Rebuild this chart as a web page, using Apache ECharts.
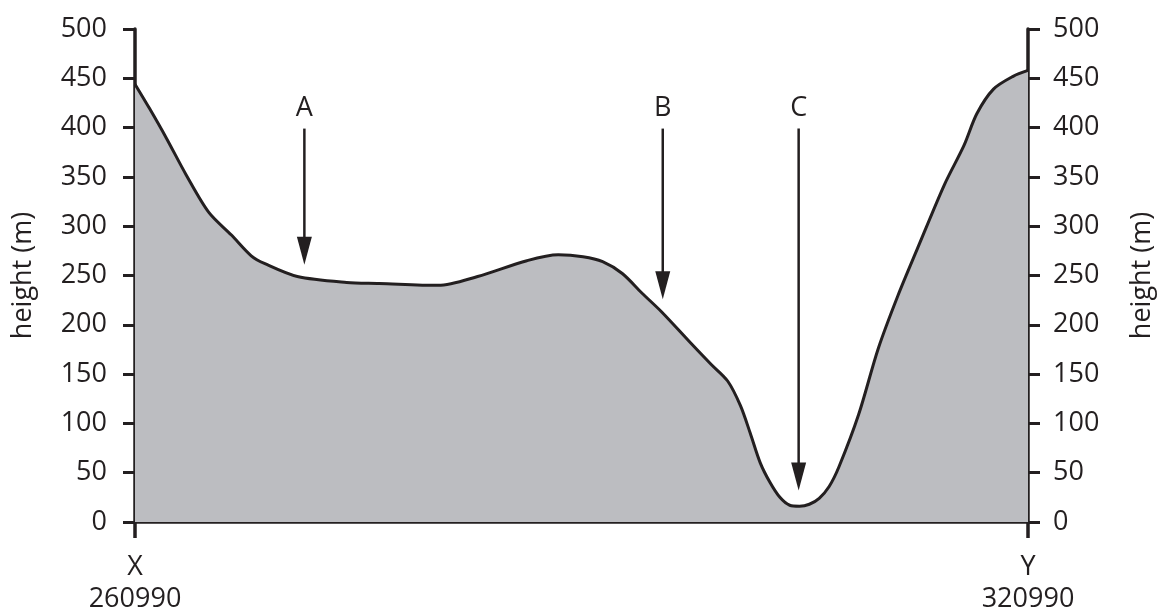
<!DOCTYPE html>
<html>
<head>
<meta charset="utf-8">
<script src="https://cdn.jsdelivr.net/npm/echarts@6/dist/echarts.min.js"></script>
<style>
html,body{margin:0;padding:0;background:#fff;}
#chart{width:1164px;height:615px;}
</style>
</head>
<body>
<div id="chart"></div>
<script>
// Profile: easting (m) and height (m)
const eastings = [260990, 261980, 263110, 264430, 265950, 267470, 268800, 269720, 271900, 275210,
  277400, 281360, 284010, 287320, 289430, 291090, 292410, 293730, 295060, 296380,
  298360, 299690, 300810, 301670, 302330, 303000, 303660, 304320, 304980, 305640,
  306300, 306960, 307630, 308290, 309610, 310930, 312260, 313580, 315370, 316690,
  317550, 318670, 319990, 320990];
const heights = [444, 419, 389, 352, 314, 291, 270, 262, 249, 243,
  242, 240, 249, 265, 271, 269, 264, 252, 232, 213,
  181, 160, 143, 118, 90, 60, 40, 25, 17, 16,
  18, 24, 36, 56, 109, 176, 230, 278, 342, 382,
  414, 439, 452, 458];

// Arrow annotations
const arrowNames = ['A', 'B', 'C'];
const arrowEastings = [272370, 296450, 305580];
const arrowTop = [399, 399, 399];
const arrowTip = [261, 226, 32];

// Axis labels
const yTicks = [0, 50, 100, 150, 200, 250, 300, 350, 400, 450, 500];
const endEastings = [260990, 320990];
const endLetters = ['X', 'Y'];
const yName = 'height (m)';

const ink = '#231f20';
const fontFamily = "'Open Sans', 'Noto Sans', sans-serif";
const fs = 27;

const profile = eastings.map((e, i) => [e, heights[i]]);
const arrowData = arrowNames.map((n, i) => [arrowEastings[i], arrowTop[i], arrowTip[i], n]);

function yAxisDef(pos, margin, gap) {
  return {
    type: 'value', position: pos, min: yTicks[0], max: yTicks[yTicks.length - 1],
    interval: yTicks[1] - yTicks[0],
    name: yName, nameLocation: 'middle', nameRotate: 90, nameGap: gap,
    nameTextStyle: { color: ink, fontSize: fs, fontFamily: fontFamily },
    axisLine: { show: true, lineStyle: { color: ink, width: 3.5 } },
    axisTick: { show: true, length: 12, lineStyle: { color: ink, width: 3 } },
    axisLabel: { color: ink, fontSize: fs, fontFamily: fontFamily, margin: margin },
    splitLine: { show: false }
  };
}

function renderArrow(params, api) {
  const top = api.coord([api.value(0), api.value(1)]);
  const tip = api.coord([api.value(0), api.value(2)]);
  const headLen = 28, headHalf = 7.5;
  return {
    type: 'group',
    children: [
      { type: 'line', shape: { x1: top[0], y1: top[1], x2: tip[0], y2: tip[1] - headLen + 2 },
        style: { stroke: ink, lineWidth: 2.5 } },
      { type: 'polygon', shape: { points: [[tip[0], tip[1]], [tip[0] - headHalf, tip[1] - headLen], [tip[0] + headHalf, tip[1] - headLen]] },
        style: { fill: ink } },
      { type: 'text', x: top[0], y: top[1] - 20,
        style: { text: api.value(3), fill: ink, font: fs + 'px ' + fontFamily, align: 'center', verticalAlign: 'middle' } }
    ]
  };
}

const chart = echarts.init(document.getElementById('chart'));
chart.setOption({
  animation: false,
  grid: { left: 135, right: 122, top: 29, bottom: 86, containLabel: false },
  xAxis: {
    type: 'value', min: endEastings[0], max: endEastings[1],
    axisLine: { show: true, lineStyle: { color: ink, width: 3.5 } },
    axisTick: { show: true, customValues: endEastings, length: 16, lineStyle: { color: ink, width: 3.5 } },
    axisLabel: {
      customValues: endEastings, color: ink, fontSize: fs, fontFamily: fontFamily,
      lineHeight: 32, margin: 29,
      formatter: v => endLetters[endEastings.indexOf(v)] + '\n' + v
    },
    splitLine: { show: false }
  },
  yAxis: [yAxisDef('left', 28, 98), yAxisDef('right', 25, 101)],
  series: [{
    type: 'line',
    data: profile,
    smooth: 0.3,
    showSymbol: false,
    lineStyle: { color: ink, width: 3 },
    areaStyle: { color: '#bcbdc1', opacity: 1 }
  }, {
    type: 'custom',
    silent: true,
    renderItem: renderArrow,
    data: arrowData,
    encode: { x: 0, y: [1, 2] },
    z: 5
  }]
});
</script>
</body>
</html>
